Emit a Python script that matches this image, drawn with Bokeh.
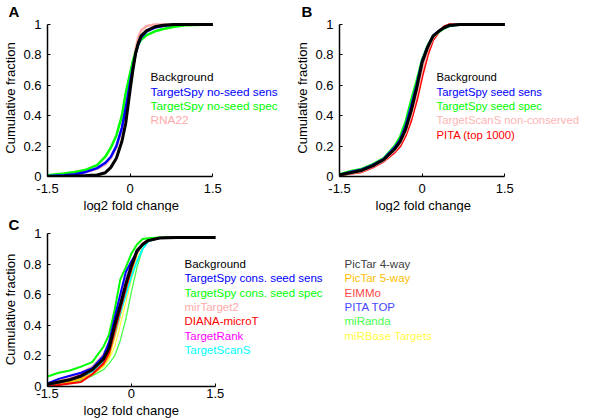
from bokeh.plotting import figure
from bokeh.models import Label, FixedTicker, Range1d, Title
from bokeh.layouts import column, row
from bokeh.embed import file_html
from bokeh.resources import INLINE

FONT = "Liberation Sans"

# ---------------- Panel A ----------------
xa = [-1.5, -1.2, -1.0, -0.8, -0.6, -0.45, -0.35, -0.25, -0.15, -0.08, 0, 0.05, 0.1, 0.15, 0.2, 0.3, 0.45, 0.6, 0.8, 1.0, 1.5]
a_background = [0, 0.002, 0.004, 0.006, 0.01, 0.025, 0.06, 0.12, 0.23, 0.35, 0.57, 0.7, 0.81, 0.88, 0.925, 0.96, 0.985, 0.995, 1, 1, 1]
a_sens = [0.003, 0.008, 0.015, 0.03, 0.055, 0.09, 0.13, 0.2, 0.32, 0.45, 0.62, 0.72, 0.81, 0.87, 0.915, 0.955, 0.98, 0.99, 1, 1, 1]
a_spec = [0.008, 0.02, 0.03, 0.045, 0.075, 0.13, 0.19, 0.27, 0.4, 0.55, 0.68, 0.76, 0.82, 0.87, 0.9, 0.93, 0.955, 0.97, 0.985, 0.995, 1]
a_rna22 = [0.003, 0.008, 0.015, 0.03, 0.05, 0.08, 0.12, 0.19, 0.31, 0.45, 0.62, 0.74, 0.84, 0.92, 0.96, 0.99, 1, 1, 1, 1, 1]
a_names = ["Background", "TargetSpy no-seed sens", "TargetSpy no-seed spec", "RNA22"]
a_colors = ["#000000", "#0000ff", "#00ff00", "#ffaaaa"]
a_series = [a_background, a_sens, a_spec, a_rna22]

# ---------------- Panel B ----------------
xb = [-1.5, -1.3, -1.1, -0.9, -0.7, -0.5, -0.4, -0.3, -0.2, -0.1, 0, 0.1, 0.2, 0.3, 0.4, 0.5, 0.7, 1.5]
b_background = [0.01, 0.025, 0.04, 0.07, 0.11, 0.18, 0.23, 0.31, 0.43, 0.58, 0.75, 0.85, 0.925, 0.955, 0.98, 0.995, 1, 1]
b_sens = [0.01, 0.03, 0.045, 0.075, 0.115, 0.19, 0.24, 0.33, 0.46, 0.6, 0.76, 0.855, 0.925, 0.955, 0.978, 0.993, 1, 1]
b_spec = [0.015, 0.035, 0.05, 0.08, 0.12, 0.2, 0.26, 0.36, 0.5, 0.63, 0.77, 0.86, 0.925, 0.95, 0.975, 0.99, 1, 1]
b_tss_noncons = [0.01, 0.022, 0.035, 0.065, 0.105, 0.17, 0.215, 0.29, 0.4, 0.54, 0.7, 0.83, 0.915, 0.955, 0.98, 0.995, 1, 1]
b_pita = [0.01, 0.02, 0.03, 0.06, 0.1, 0.16, 0.2, 0.27, 0.37, 0.5, 0.66, 0.8, 0.9, 0.95, 0.985, 1, 1, 1]
b_names = ["Background", "TargetSpy seed sens", "TargetSpy seed spec", "TargetScanS non-conserved", "PITA (top 1000)"]
b_colors = ["#000000", "#0000ff", "#00ff00", "#ffb4b4", "#ff0000"]
b_series = [b_background, b_sens, b_spec, b_tss_noncons, b_pita]

# ---------------- Panel C ----------------
xc = [-1.5, -1.3, -1.1, -0.9, -0.7, -0.5, -0.4, -0.3, -0.2, -0.1, 0, 0.1, 0.2, 0.3, 0.5, 0.8, 1.5]
c_background = [0.015, 0.03, 0.045, 0.07, 0.11, 0.18, 0.25, 0.4, 0.53, 0.67, 0.79, 0.89, 0.93, 0.955, 0.972, 0.975, 0.975]
c_sens = [0.02, 0.05, 0.07, 0.09, 0.12, 0.2, 0.29, 0.45, 0.6, 0.75, 0.82, 0.88, 0.93, 0.955, 0.972, 0.975, 0.975]
c_spec = [0.065, 0.09, 0.105, 0.13, 0.16, 0.26, 0.34, 0.5, 0.7, 0.78, 0.87, 0.93, 0.965, 0.97, 0.975, 0.975, 0.975]
c_mirtarget2 = [0.02, 0.04, 0.06, 0.09, 0.13, 0.21, 0.29, 0.42, 0.56, 0.69, 0.8, 0.89, 0.93, 0.955, 0.972, 0.975, 0.975]
c_diana = [0.0, 0.01, 0.02, 0.03, 0.08, 0.15, 0.22, 0.36, 0.5, 0.64, 0.77, 0.88, 0.935, 0.96, 0.972, 0.975, 0.975]
c_targetrank = [0.015, 0.04, 0.06, 0.08, 0.12, 0.2, 0.27, 0.41, 0.55, 0.68, 0.79, 0.885, 0.93, 0.955, 0.972, 0.975, 0.975]
c_targetscans = [0.01, 0.03, 0.05, 0.07, 0.1, 0.17, 0.23, 0.35, 0.48, 0.6, 0.72, 0.82, 0.9, 0.95, 0.972, 0.975, 0.975]
c_pictar4 = [0.01, 0.025, 0.04, 0.065, 0.1, 0.17, 0.24, 0.38, 0.52, 0.66, 0.78, 0.885, 0.93, 0.955, 0.972, 0.975, 0.975]
c_pictar5 = [0.005, 0.015, 0.03, 0.05, 0.08, 0.14, 0.2, 0.33, 0.47, 0.62, 0.75, 0.87, 0.93, 0.955, 0.972, 0.975, 0.975]
c_eimmo = [0.01, 0.02, 0.035, 0.06, 0.1, 0.17, 0.25, 0.39, 0.53, 0.67, 0.78, 0.88, 0.93, 0.955, 0.972, 0.975, 0.975]
c_pitatop = [0.015, 0.035, 0.055, 0.08, 0.115, 0.19, 0.27, 0.42, 0.56, 0.7, 0.8, 0.885, 0.93, 0.955, 0.972, 0.975, 0.975]
c_miranda = [0.005, 0.01, 0.02, 0.04, 0.07, 0.11, 0.15, 0.2, 0.3, 0.44, 0.62, 0.78, 0.9, 0.95, 0.972, 0.975, 0.975]
c_mirbase = [0.005, 0.015, 0.025, 0.045, 0.075, 0.13, 0.18, 0.26, 0.4, 0.55, 0.7, 0.83, 0.91, 0.95, 0.972, 0.975, 0.975]
c_names1 = ["Background", "TargetSpy cons. seed sens", "TargetSpy cons. seed spec", "mirTarget2", "DIANA-microT", "TargetRank", "TargetScanS"]
c_colors1 = ["#000000", "#0000ff", "#00ff00", "#ffaaaa", "#ff0000", "#ff00ff", "#00ffff"]
c_series1 = [c_background, c_sens, c_spec, c_mirtarget2, c_diana, c_targetrank, c_targetscans]
c_names2 = ["PicTar 4-way", "PicTar 5-way", "EIMMo", "PITA TOP", "miRanda", "miRBase Targets"]
c_colors2 = ["#404040", "#ffc000", "#ff4848", "#4848ff", "#48ff48", "#ffff48"]
c_series2 = [c_pictar4, c_pictar5, c_eimmo, c_pitatop, c_miranda, c_mirbase]

x_ticks = [-1.5, 0, 1.5]
y_ticks = [0, 0.2, 0.4, 0.6, 0.8, 1]

AXIS_PX = 170.0   # pixel length of the -1.5..1.5 axis
YAXIS_PX = 153.0  # pixel length of the 0..1 axis (panels A, B)


def make_panel(width, height, bl, bt, bb, y_end, xstand, letter, letter_offset):
    frame_w = width - bl
    x_end = -1.5 + 3.0 * frame_w / AXIS_PX
    p = figure(width=width, height=height, x_range=Range1d(-1.5, x_end), y_range=Range1d(0, y_end),
               output_backend="svg", toolbar_location=None,
               min_border_left=bl, min_border_right=0, min_border_top=bt, min_border_bottom=bb,
               outline_line_color=None, background_fill_color="white", border_fill_color="white")
    p.title.text = letter
    p.title.align = "left"
    p.title.offset = letter_offset
    p.title.standoff = 0
    p.title.text_font = FONT
    p.title.text_font_size = "15px"
    p.title.text_font_style = "bold"
    p.title.text_color = "black"
    p.xgrid.visible = False
    p.ygrid.visible = False
    p.xaxis.bounds = (-1.5, 1.5)
    p.yaxis.bounds = (0, 1)
    p.xaxis.ticker = FixedTicker(ticks=x_ticks)
    p.yaxis.ticker = FixedTicker(ticks=y_ticks)
    p.xaxis.major_label_overrides = {-1.5: "-1.5", 0: "0", 1.5: "1.5"}
    p.yaxis.major_label_overrides = {0: "0", 0.2: "0.2", 0.4: "0.4", 0.6: "0.6", 0.8: "0.8", 1: "1"}
    for ax in (p.xaxis, p.yaxis):
        ax.axis_line_width = 1.5
        ax.axis_line_color = "black"
        ax.major_tick_in = 3
        ax.major_tick_out = 0
        ax.minor_tick_line_color = None
        ax.major_label_text_font = FONT
        ax.major_label_text_font_size = "13px"
        ax.major_label_text_color = "black"
        ax.axis_label_text_font = FONT
        ax.axis_label_text_font_size = "13px"
        ax.axis_label_text_font_style = "normal"
        ax.axis_label_text_color = "black"
    p.yaxis.axis_label = "Cumulative fraction"
    p.xaxis.major_label_standoff = xstand
    p.yaxis.major_label_standoff = 6
    p.yaxis.axis_label_standoff = 2
    # x-axis caption, centred under the -1.5..1.5 axis
    p.add_layout(Title(text="log2 fold change", align="left", offset=36, standoff=0,
                       text_font=FONT, text_font_size="13px", text_font_style="normal",
                       text_color="black"), "below")
    return p


def add_text(p, txt, xo, yo, color, size="12px"):
    p.add_layout(Label(x=-1.5, y=1, x_units="data", y_units="data", x_offset=xo, y_offset=yo,
                       text=txt, text_color=color, text_font=FONT, text_font_size=size,
                       text_baseline="middle", text_align="left"))


# Panel A   (frame top at page ~19 so that y=1 sits at page ~24)
ab_end = (177 - 19) / YAXIS_PX
pA = make_panel(292, 212, 40, 18, 36, ab_end, 7, "A", -39)
for s, c in reversed(list(zip(a_series, a_colors))):
    pA.line(xa, s, line_color=c, line_width=3 if c == "#000000" else 2.5)
for i, (n, c) in enumerate(zip(a_names, a_colors)):
    add_text(pA, n, 103, -53 - 14.3 * i, c, size="11.8px")

# Panel B
pB = make_panel(292, 212, 40, 18, 36, ab_end, 7, "B", -38)
for s, c in reversed(list(zip(b_series, b_colors))):
    pB.line(xb, s, line_color=c, line_width=3 if c == "#000000" else 2.5)
for i, (n, c) in enumerate(zip(b_names, b_colors)):
    add_text(pB, n, 97, -53 - 14.3 * i, c, size="11.3px")

# Panel C
pC = make_panel(584, 206, 40, 20, 32, 1.008, 2, "C", -39)
for s, c in reversed(list(zip(c_series2, c_colors2))):
    pC.line(xc, s, line_color=c, line_width=1.3 if c in ("#48ff48", "#ffff48") else 2)
for s, c in reversed(list(zip(c_series1, c_colors1))):
    pC.line(xc, s, line_color=c, line_width=3 if c == "#000000" else 2)
for i, (n, c) in enumerate(zip(c_names1, c_colors1)):
    add_text(pC, n, 137, -30 - 14.4 * i, c, size="11.5px")
for i, (n, c) in enumerate(zip(c_names2, c_colors2)):
    add_text(pC, n, 297, -30 - 14.4 * i, c, size="11.5px")

layout = column(row(pA, pB), pC)
open("out.html", "w").write(file_html(layout, INLINE))
